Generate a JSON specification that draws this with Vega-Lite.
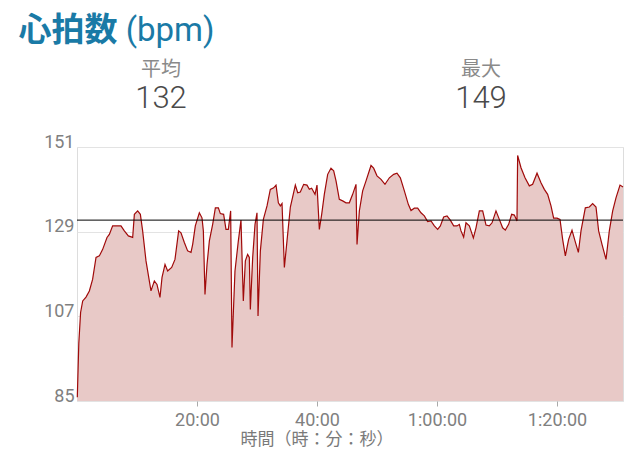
{
  "$schema": "https://vega.github.io/schema/vega-lite/v6.json",
  "background": "white",
  "padding": {"left": 0, "top": 15, "right": 0, "bottom": 0},
  "title": {
    "text": "心拍数",
    "subtitle": "\u200b\u3000\u3000\u3000 (bpm)",
    "anchor": "start",
    "dx": 18,
    "font": "Noto Sans CJK JP",
    "fontSize": 33,
    "fontWeight": "bold",
    "color": "#1a7aa6",
    "subtitleFont": "Roboto, Noto Sans CJK JP",
    "subtitleFontSize": 33,
    "subtitleFontWeight": "normal",
    "subtitleColor": "#1a7aa6",
    "subtitlePadding": -33,
    "offset": 7
  },
  "config": {"view": {"stroke": null}, "font": "Roboto"},
  "spacing": 18,
  "vconcat": [
    {
      "width": 488,
      "height": 58,
      "data": {"values": [{"stat": "平均", "value": 132}, {"stat": "最大", "value": 149}]},
      "encoding": {
        "x": {"field": "stat", "type": "nominal", "scale": {"type": "point", "domain": ["平均", "最大"], "padding": 0.2625}, "axis": null}
      },
      "layer": [
        {
          "mark": {"type": "text", "font": "Noto Sans CJK JP", "fontSize": 20, "color": "#8a8a8a", "baseline": "middle"},
          "encoding": {
            "text": {"field": "stat"},
            "y": {"datum": "label", "type": "nominal", "scale": {"type": "point", "domain": ["label", "value"], "padding": 0.5}, "axis": null}
          }
        },
        {
          "mark": {"type": "text", "font": "Roboto", "fontSize": 31, "fontWeight": 300, "color": "#4a4a4a", "baseline": "middle"},
          "encoding": {
            "text": {"field": "value"},
            "y": {"datum": "value", "type": "nominal"}
          }
        }
      ]
    },
    {
      "width": 546,
      "height": 254,
      "view": {"stroke": "#dddddd"},
      "layer": [
        {
          "data": {"values": [
            {"t": 0.05, "hr": 86}, {"t": 0.3, "hr": 100}, {"t": 0.6, "hr": 108}, {"t": 0.95, "hr": 111},
            {"t": 1.5, "hr": 112}, {"t": 2.06, "hr": 113.6}, {"t": 2.6, "hr": 116.6}, {"t": 3.17, "hr": 122.3},
            {"t": 3.72, "hr": 122.7}, {"t": 4.28, "hr": 124.4}, {"t": 5.0, "hr": 127.5}, {"t": 5.39, "hr": 128.3},
            {"t": 5.94, "hr": 130.5}, {"t": 7.33, "hr": 130.5}, {"t": 7.89, "hr": 129.2}, {"t": 8.56, "hr": 127.9},
            {"t": 9.28, "hr": 127.5}, {"t": 9.56, "hr": 133.5}, {"t": 10.11, "hr": 134.4}, {"t": 10.56, "hr": 133.5},
            {"t": 10.94, "hr": 129.2}, {"t": 11.5, "hr": 121.4}, {"t": 12.33, "hr": 113.6}, {"t": 12.89, "hr": 116.2},
            {"t": 13.33, "hr": 115.3}, {"t": 13.83, "hr": 111.9}, {"t": 14.17, "hr": 117.1}, {"t": 14.67, "hr": 120.5},
            {"t": 15.11, "hr": 118.8}, {"t": 15.78, "hr": 119.7}, {"t": 16.33, "hr": 121.8}, {"t": 16.94, "hr": 129.2},
            {"t": 17.33, "hr": 128.7}, {"t": 17.89, "hr": 126.2}, {"t": 18.44, "hr": 124.0}, {"t": 19.0, "hr": 123.6},
            {"t": 19.28, "hr": 125.7}, {"t": 19.72, "hr": 130.5}, {"t": 20.39, "hr": 133.9}, {"t": 20.83, "hr": 132.6},
            {"t": 21.06, "hr": 129.2}, {"t": 21.33, "hr": 112.7}, {"t": 21.67, "hr": 120.5}, {"t": 22.06, "hr": 126.6},
            {"t": 22.61, "hr": 130.9}, {"t": 23.06, "hr": 135.2}, {"t": 23.56, "hr": 135.2}, {"t": 23.89, "hr": 133.7},
            {"t": 24.44, "hr": 133.5}, {"t": 24.83, "hr": 129.6}, {"t": 25.22, "hr": 129.6}, {"t": 25.61, "hr": 134.4},
            {"t": 25.83, "hr": 98.9}, {"t": 26.33, "hr": 118.8}, {"t": 26.89, "hr": 126.6}, {"t": 27.33, "hr": 132},
            {"t": 27.72, "hr": 111}, {"t": 28.06, "hr": 121.4}, {"t": 28.44, "hr": 123.1}, {"t": 28.72, "hr": 122.3},
            {"t": 28.89, "hr": 108.8}, {"t": 29.28, "hr": 122.3}, {"t": 29.67, "hr": 130.9}, {"t": 30.0, "hr": 133.9},
            {"t": 30.17, "hr": 107.1}, {"t": 30.56, "hr": 124.0}, {"t": 31.06, "hr": 132.2}, {"t": 31.67, "hr": 135.7},
            {"t": 32.22, "hr": 140}, {"t": 32.78, "hr": 140.4}, {"t": 33.17, "hr": 141.1}, {"t": 33.56, "hr": 136.5},
            {"t": 33.89, "hr": 135.7}, {"t": 34.17, "hr": 136.3}, {"t": 34.56, "hr": 119.7}, {"t": 35.0, "hr": 126.6},
            {"t": 35.56, "hr": 135.4}, {"t": 36.39, "hr": 141.1}, {"t": 36.78, "hr": 139.1}, {"t": 37.22, "hr": 139.3},
            {"t": 37.78, "hr": 141.3}, {"t": 38.33, "hr": 141.1}, {"t": 38.72, "hr": 140}, {"t": 39.11, "hr": 140.3},
            {"t": 39.67, "hr": 138.7}, {"t": 40.0, "hr": 141.1}, {"t": 40.39, "hr": 129.6}, {"t": 40.78, "hr": 133.5},
            {"t": 41.22, "hr": 138.7}, {"t": 41.78, "hr": 143.9}, {"t": 42.33, "hr": 145.5}, {"t": 42.78, "hr": 144.8},
            {"t": 43.17, "hr": 142.2}, {"t": 43.72, "hr": 137.4}, {"t": 44.28, "hr": 137}, {"t": 44.83, "hr": 136.5},
            {"t": 45.39, "hr": 136.5}, {"t": 45.94, "hr": 138.7}, {"t": 46.5, "hr": 141.3}, {"t": 46.67, "hr": 125.7},
            {"t": 47.06, "hr": 134.4}, {"t": 47.61, "hr": 139.6}, {"t": 48.17, "hr": 142.2}, {"t": 49.0, "hr": 146.2},
            {"t": 49.44, "hr": 145.5}, {"t": 50.0, "hr": 143.5}, {"t": 50.67, "hr": 142.6}, {"t": 51.33, "hr": 141.3},
            {"t": 52.06, "hr": 143}, {"t": 52.78, "hr": 143.9}, {"t": 53.33, "hr": 144.2}, {"t": 53.89, "hr": 143},
            {"t": 54.56, "hr": 139.6}, {"t": 55.22, "hr": 136.1}, {"t": 55.67, "hr": 134.5}, {"t": 56.22, "hr": 135.1},
            {"t": 56.78, "hr": 135.1}, {"t": 57.33, "hr": 133.9}, {"t": 57.89, "hr": 133.1}, {"t": 58.44, "hr": 131.6},
            {"t": 59.0, "hr": 131.8}, {"t": 59.56, "hr": 130.5}, {"t": 60.11, "hr": 129.6}, {"t": 60.56, "hr": 130.5},
            {"t": 61.11, "hr": 132.8}, {"t": 61.67, "hr": 133.1}, {"t": 62.22, "hr": 132}, {"t": 62.78, "hr": 130.5},
            {"t": 63.33, "hr": 130.5}, {"t": 63.72, "hr": 130.9}, {"t": 64.0, "hr": 129.2}, {"t": 64.44, "hr": 127.6},
            {"t": 64.83, "hr": 131.3}, {"t": 65.39, "hr": 130.5}, {"t": 65.78, "hr": 128.7}, {"t": 66.06, "hr": 127.4},
            {"t": 66.5, "hr": 130}, {"t": 67.06, "hr": 134.4}, {"t": 67.61, "hr": 134.4}, {"t": 68.17, "hr": 130.7},
            {"t": 68.72, "hr": 130.5}, {"t": 69.17, "hr": 131.3}, {"t": 69.83, "hr": 134.4}, {"t": 70.39, "hr": 132.2},
            {"t": 70.94, "hr": 130}, {"t": 71.39, "hr": 129.4}, {"t": 71.94, "hr": 130.9}, {"t": 72.44, "hr": 133.5},
            {"t": 72.89, "hr": 133.3}, {"t": 73.33, "hr": 131.8}, {"t": 73.44, "hr": 148.8}, {"t": 74.0, "hr": 145.6},
            {"t": 74.67, "hr": 143}, {"t": 75.39, "hr": 140.9}, {"t": 75.94, "hr": 141.3}, {"t": 76.67, "hr": 144.2},
            {"t": 77.33, "hr": 141.7}, {"t": 77.89, "hr": 140}, {"t": 78.44, "hr": 138.7}, {"t": 79.0, "hr": 135.7},
            {"t": 79.44, "hr": 132.5}, {"t": 80.0, "hr": 132.5}, {"t": 80.5, "hr": 132.2}, {"t": 80.94, "hr": 127},
            {"t": 81.39, "hr": 122.7}, {"t": 81.94, "hr": 127}, {"t": 82.5, "hr": 129.4}, {"t": 83.0, "hr": 126.6},
            {"t": 83.56, "hr": 123.6}, {"t": 84.0, "hr": 129.2}, {"t": 84.72, "hr": 135.2}, {"t": 85.39, "hr": 135.4},
            {"t": 85.94, "hr": 136.3}, {"t": 86.5, "hr": 135.4}, {"t": 86.94, "hr": 129.2}, {"t": 87.5, "hr": 125.7},
            {"t": 88.17, "hr": 121.8}, {"t": 88.72, "hr": 129.2}, {"t": 89.28, "hr": 134.4}, {"t": 89.83, "hr": 137.8},
            {"t": 90.5, "hr": 141.1}, {"t": 91.0, "hr": 140.6}
          ]},
          "mark": {"type": "area", "color": "#e8c9c7", "opacity": 1, "line": {"color": "#a00a0a", "strokeWidth": 1.2}},
          "encoding": {
            "x": {
              "field": "t", "type": "quantitative",
              "scale": {"domain": [0, 91], "nice": false, "zero": false},
              "axis": {
                "values": [20, 40, 60, 80],
                "labelExpr": "datum.value < 60 ? datum.value + ':00' : floor(datum.value / 60) + ':' + (datum.value % 60 < 10 ? '0' : '') + (datum.value % 60) + ':00'",
                "title": "時間（時：分：秒）",
                "grid": false, "domain": false,
                "tickColor": "#aaaaaa", "tickSize": 5,
                "labelFont": "Roboto", "labelFontSize": 18, "labelColor": "#808080", "labelPadding": 5,
                "titleFont": "Noto Sans CJK JP", "titleFontSize": 17, "titleFontWeight": "normal", "titleColor": "#7a7a7a",
                "titleX": 239.5, "titleY": 38, "titleAlign": "center", "titleBaseline": "middle"
              }
            },
            "y": {
              "field": "hr", "type": "quantitative",
              "scale": {"domain": [85, 151], "nice": false, "zero": false},
              "axis": {
                "values": [85, 107, 129, 151], "title": null, "ticks": false, "domain": false,
                "grid": true, "gridColor": "#e3e3e3",
                "labelFont": "Roboto", "labelFontSize": 18, "labelColor": "#808080", "labelPadding": 3,
                "labelBaseline": "alphabetic", "minExtent": 76
              }
            },
            "y2": {"datum": 85}
          }
        },
        {
          "data": {"values": [{"stat": "平均", "value": 132}]},
          "mark": {"type": "rule", "color": "#000000", "strokeWidth": 1},
          "encoding": {"y": {"field": "value", "type": "quantitative"}}
        }
      ]
    }
  ]
}
